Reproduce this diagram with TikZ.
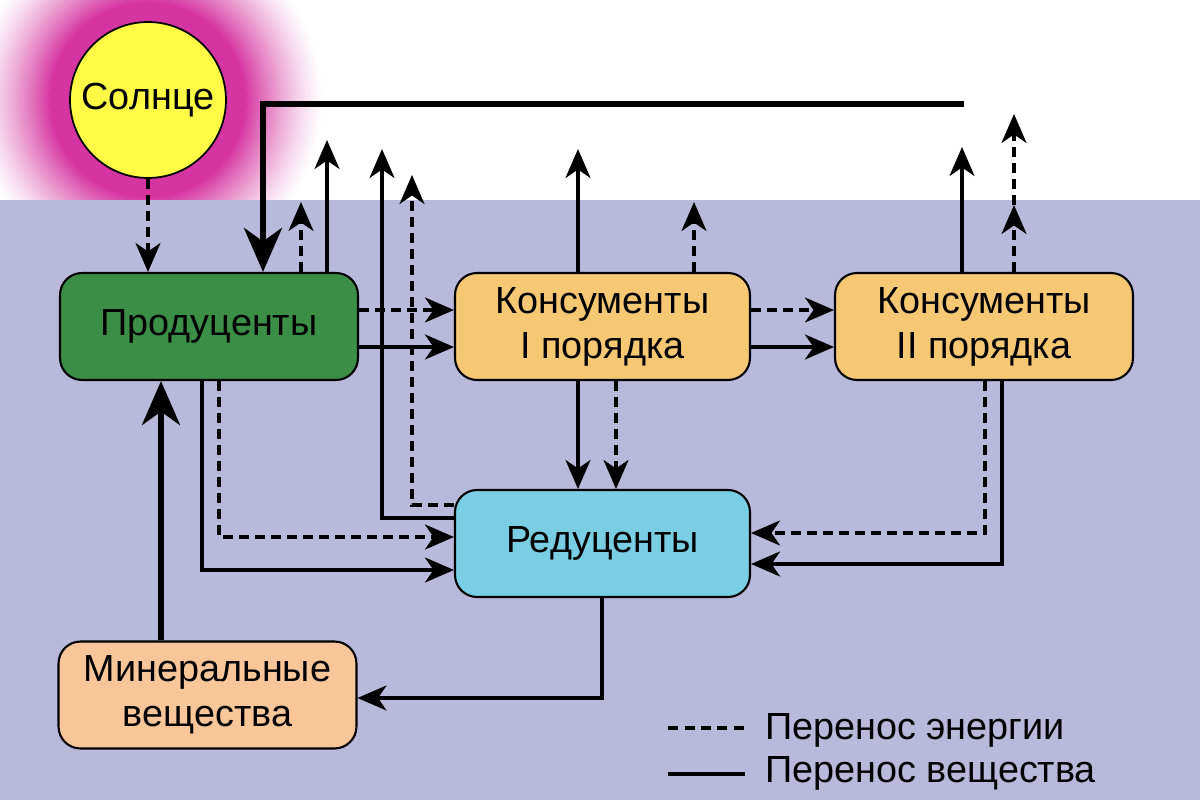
\documentclass[tikz,border=0pt]{standalone}
\usepackage{fontspec}
\setmainfont{Liberation Sans}
\usetikzlibrary{arrows.meta}
\definecolor{bg}{RGB}{185,185,219}
\definecolor{glowc}{RGB}{214,52,160}
\definecolor{suny}{RGB}{255,250,70}
\definecolor{prodg}{RGB}{58,142,70}
\definecolor{konsc}{RGB}{246,200,116}
\definecolor{redc}{RGB}{122,206,228}
\definecolor{minc}{RGB}{249,198,154}
\newcommand{\dfont}{\fontsize{21.5}{25.6}\selectfont}
\begin{document}
\begin{tikzpicture}[x=0.02cm,y=-0.02cm,
  box/.style={draw=black, line width=1.2pt, rounded corners=0.44cm, minimum height=2.14cm,
    align=center, font=\dfont, inner sep=0pt, text=black},
  mat/.style={line width=1.8pt, -{Stealth[length=0.58cm,width=0.5cm,inset=0.17cm]}},
  en/.style={mat, dash pattern=on 0.2cm off 0.12cm},
  heavy/.style={line width=3.3pt, -{Stealth[length=0.88cm,width=0.76cm,inset=0.27cm]}},
  legline/.style={line width=1.8pt}
]
\useasboundingbox (0,0) rectangle (1200,800);
\fill[white] (0,0) rectangle (1200,800);
% sun glow as stacked discs
\foreach \r in {178,176,...,92} {
  \pgfmathtruncatemacro\p{min(100,100*((178-\r)/80)^1.35)}
  \fill[glowc!\p!white] (148,100) circle [radius=\r];
}
\fill[bg] (0,200) rectangle (1200,800);

% nodes
\node[circle, draw=black, line width=1pt, fill=suny, minimum size=3.12cm, inner sep=0pt, font=\dfont] (sun) at (148,100) {Солнце};
\node[box, fill=prodg, minimum width=5.96cm] (prod) at (209,326.5) {Продуценты};
\node[box, fill=konsc, minimum width=5.9cm] (k1) at (602.5,326.5) {Консументы\\I порядка};
\node[box, fill=konsc, minimum width=5.96cm] (k2) at (984,326.5) {Консументы\\II порядка};
\node[box, fill=redc, minimum width=5.9cm] (red) at (602.5,543.5) {Редуценты};
\node[box, fill=minc, minimum width=5.96cm, minimum height=2.14cm] (min) at (207.5,695) {Минеральные\\вещества};

% free ends and guide coordinates
\coordinate (tA) at (301,202);
\coordinate (tB) at (327,140);
\coordinate (tC) at (382,149);
\coordinate (tD) at (412,175);
\coordinate (tE) at (578,149);
\coordinate (tF) at (694,202);
\coordinate (tG) at (962,147);
\coordinate (mH) at (1014,205);
\coordinate (tH) at (1014,114);
\coordinate (fb) at (964,104);
\coordinate (x263) at (263,0);
\coordinate (x161) at (161,0);
\coordinate (x202) at (202,0);
\coordinate (x219) at (219,0);
\coordinate (x578) at (578,0);
\coordinate (x616) at (616,0);
\coordinate (x985) at (985,0);
\coordinate (x1002) at (1002,0);
\coordinate (x602) at (602,0);
\coordinate (y310) at (0,310);
\coordinate (y347) at (0,347);
\coordinate (y505) at (0,505);
\coordinate (y518) at (0,518);
\coordinate (y537) at (0,537);
\coordinate (y570) at (0,570);
\coordinate (y533) at (0,533);
\coordinate (y564) at (0,564);
\coordinate (y698) at (0,698);

% sun -> producers
\draw[en] (sun.south) -- (prod.north -| sun.south);
% heavy feedback line
\draw[heavy] (fb) -| (prod.north -| x263);
% producers up
\draw[en] (prod.north -| tA) -- (tA);
\draw[mat] (prod.north -| tB) -- (tB);
% reducers up
\draw[mat] (red.west |- y518) -| (tC);
\draw[en] (red.west |- y505) -| (tD);
% consumers I up
\draw[mat] (k1.north -| tE) -- (tE);
\draw[en] (k1.north -| tF) -- (tF);
% consumers II up
\draw[mat] (k2.north -| tG) -- (tG);
\draw[en] (k2.north -| mH) -- (mH);
\draw[en] (mH) -- (tH);
% horizontal flows
\draw[en] (prod.east |- y310) -- (k1.west |- y310);
\draw[mat] (prod.east |- y347) -- (k1.west |- y347);
\draw[en] (k1.east |- y310) -- (k2.west |- y310);
\draw[mat] (k1.east |- y347) -- (k2.west |- y347);
% consumers I -> reducers
\draw[mat] (k1.south -| x578) -- (red.north -| x578);
\draw[en] (k1.south -| x616) -- (red.north -| x616);
% producers -> reducers
\draw[en] (prod.south -| x219) |- (red.west |- y537);
\draw[mat] (prod.south -| x202) |- (red.west |- y570);
% consumers II -> reducers
\draw[en] (k2.south -| x985) |- (red.east |- y533);
\draw[mat] (k2.south -| x1002) |- (red.east |- y564);
% reducers -> minerals
\draw[mat] (red.south -| x602) |- (min.east |- y698);
% minerals -> producers
\draw[heavy] (min.north -| x161) -- (prod.south -| x161);

% legend
\coordinate (la) at (668,728);
\coordinate (lb) at (745,728);
\coordinate (lc) at (668,774);
\coordinate (ld) at (745,774);
\draw[legline, dash pattern=on 0.2cm off 0.13cm] (la) -- (lb);
\draw[legline] (lc) -- (ld);
\node[anchor=base west, font=\dfont, inner sep=0pt] (l1) at (765,739) {Перенос энергии};
\node[anchor=base west, font=\dfont, inner sep=0pt] (l2) at (765,782) {Перенос вещества};
\end{tikzpicture}
\end{document}
